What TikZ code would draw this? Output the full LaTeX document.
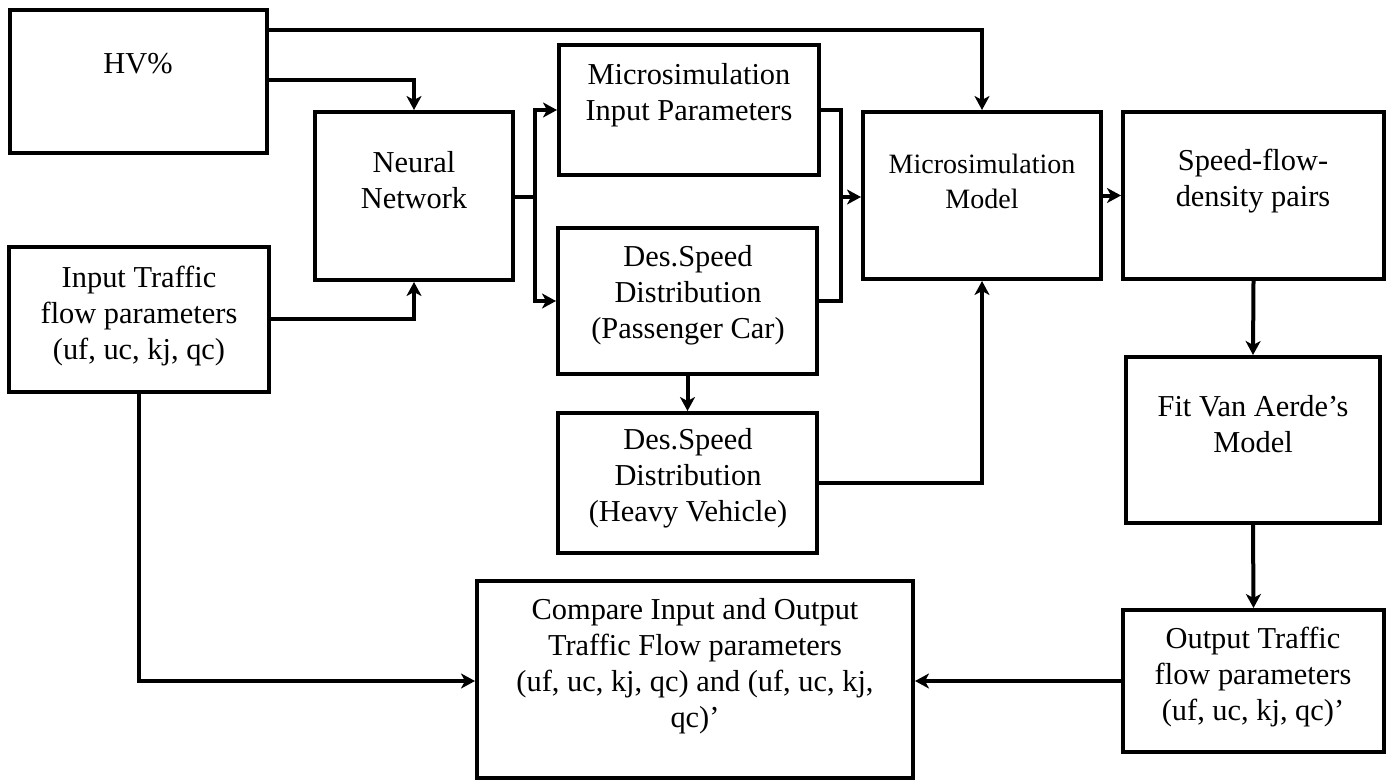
\documentclass[tikz,border=0pt]{standalone}
\usepackage{fontspec}
\setmainfont{Liberation Serif}
\usetikzlibrary{arrows.meta,fit}
\begin{document}
\begin{tikzpicture}[x=0.5pt,y=-0.5pt,
  box/.style={draw, line width=2pt, inner sep=0pt},
  lbl/.style={align=center, inner sep=0pt, font=\fontsize{15.2}{18}\selectfont},
  lblsm/.style={align=center, inner sep=0pt, font=\fontsize{14}{17.5}\selectfont},
  conn/.style={line width=2pt, -{Stealth[length=7pt,width=7.5pt,inset=2pt]}},
  link/.style={line width=2pt}]
\useasboundingbox (0,0) rectangle (1386,782);

% boxes
\node[box, fit={(10,10) (267,153)}]    (hv)   {};
\node[box, fit={(9,247) (269,392)}]    (inp)  {};
\node[box, fit={(315,112) (513,280)}]  (nn)   {};
\node[box, fit={(559,45) (819,175)}]   (mip)  {};
\node[box, fit={(558,228) (817,374)}]  (dspc) {};
\node[box, fit={(558,413) (817,553)}]  (dshv) {};
\node[box, fit={(863,112) (1101,279)}] (mm)   {};
\node[box, fit={(1123,112) (1384,279)}] (sfd) {};
\node[box, fit={(1126,357) (1380,523)}] (fva) {};
\node[box, fit={(1123,610) (1384,752)}] (otf) {};
\node[box, fit={(477,581) (913,778)}]  (cmp)  {};

% labels
\node[lbl] (hvT)   at (138,64)   {HV\%};
\node[lbl] (inpT)  at (139,316)  {Input Traffic\\flow parameters\\(uf, uc, kj, qc)};
\node[lbl] (nnT)   at (414,180)  {Neural\\Network};
\node[lbl] (mipT)  at (689,95)   {Microsimulation\\Input Parameters};
\node[lbl] (dspcT) at (688,295)  {Des.Speed\\Distribution\\(Passenger Car)};
\node[lbl] (dshvT) at (688,478)  {Des.Speed\\Distribution\\(Heavy Vehicle)};
\node[lblsm] (mmT) at (982,181)  {Microsimulation\\Model};
\node[lbl] (sfdT)  at (1253,181) {Speed-flow-\\density pairs};
\node[lbl] (fvaT)  at (1253,424) {Fit Van Aerde’s\\Model};
\node[lbl] (otfT)  at (1253,677) {Output Traffic\\flow parameters\\(uf, uc, kj, qc)’};
\node[lbl] (cmpT)  at (695,666)  {Compare Input and Output\\Traffic Flow parameters\\(uf, uc, kj, qc) and (uf, uc, kj,\\qc)’};

% routing points
\coordinate (yTop) at (0,30);
\coordinate (yHv)  at (0,80);
\coordinate (yIn)  at (0,319);
\coordinate (yCmp) at (0,681);
\coordinate (split) at (535,197);
\coordinate (merge) at (841,197);

% connectors
\draw[conn] (hv.east |- yTop) -| (mm.north);
\draw[conn] (hv.east |- yHv) -| (nn.north);
\draw[conn] (inp.east |- yIn) -| (nn.south);
\draw[conn] (inp.south) |- (cmp.west |- yCmp);
\draw[link] (nn.east |- split) -- (split);
\draw[conn] (split) |- (mip.west);
\draw[conn] (split) |- (dspc.west);
\draw[link] (mip.east) -| (merge);
\draw[link] (dspc.east) -| (merge);
\draw[conn] (merge) -- (mm.west |- merge);
\draw[conn] (dspc.south) -- (dshv.north);
\draw[conn] (dshv.east) -| (mm.south);
\draw[conn] (mm.east) -- (sfd.west);
\draw[conn] (sfd.south) -- (fva.north);
\draw[conn] (fva.south) -- (otf.north);
\draw[conn] (otf.west) -- (cmp.east |- otf.west);
\end{tikzpicture}
\end{document}
